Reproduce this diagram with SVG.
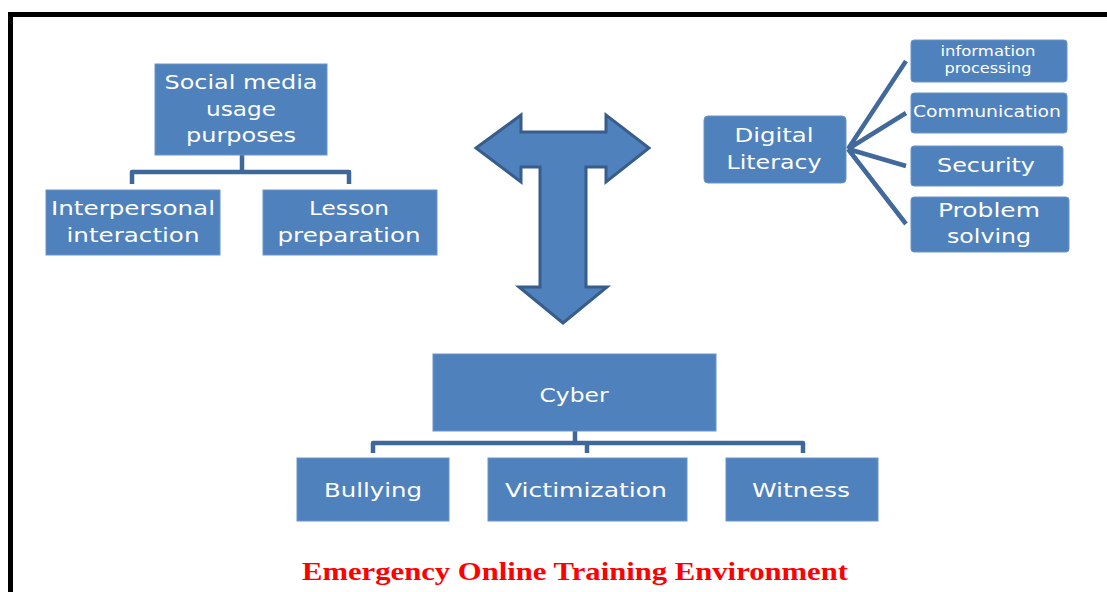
<svg xmlns="http://www.w3.org/2000/svg" width="1107" height="592" viewBox="0 0 1107 592">
<style>
.box{fill:#4F81BD;stroke:#6A95C8;stroke-width:1}
.t{fill:#fff;font-family:"DejaVu Sans","Open Sans",sans-serif;text-anchor:middle}
.conn{fill:none;stroke:#3E679A;stroke-width:4.5;stroke-linejoin:round}
.fan{fill:none;stroke:#41699B;stroke-width:4.5;stroke-linecap:butt}
</style>
<rect width="1107" height="592" fill="#fff"/>
<path d="M10.5,592 V14.5 H1107" fill="none" stroke="#000" stroke-width="5"/>
<g id="connectors">
<path class="conn" d="M242,155 V172 M132,184 V172 H349 V184"/>
<path class="conn" d="M575,431 V443 M373,453 V443 H803 V453 M587,443 V453"/>
<path class="fan" d="M848,149 L906,61 M848,149 L906,113 M848,149 L906,166 M848,149 L906,224"/>
</g>
<g id="t-arrow">
<path d="M476,148 L521,115 V132 H606 V115 L649,148 L606,182 V167 H586 V287 H607 L563,323 L519,287 H540 V167 H521 V182 Z" fill="#4F81BD" stroke="#385D8A" stroke-width="3" stroke-linejoin="miter"/>
</g>
<g id="social-media">
<rect class="box" x="155" y="64" width="172" height="91"/>
<text class="t" font-size="20"><tspan x="241" y="89" textLength="153" lengthAdjust="spacingAndGlyphs">Social media</tspan><tspan x="241" y="116" textLength="70" lengthAdjust="spacingAndGlyphs">usage</tspan><tspan x="241" y="142" textLength="110" lengthAdjust="spacingAndGlyphs">purposes</tspan></text>
</g>
<g id="interpersonal">
<rect class="box" x="46" y="190" width="174" height="65"/>
<text class="t" font-size="20"><tspan x="133" y="215" textLength="164" lengthAdjust="spacingAndGlyphs">Interpersonal</tspan><tspan x="133" y="242" textLength="133" lengthAdjust="spacingAndGlyphs">interaction</tspan></text>
</g>
<g id="lesson">
<rect class="box" x="263" y="190" width="174" height="65"/>
<text class="t" font-size="20"><tspan x="349" y="215" textLength="80" lengthAdjust="spacingAndGlyphs">Lesson</tspan><tspan x="349" y="242" textLength="143" lengthAdjust="spacingAndGlyphs">preparation</tspan></text>
</g>
<g id="digital-literacy">
<rect class="box" x="704" y="116" width="142" height="67" rx="4"/>
<text class="t" font-size="20"><tspan x="774" y="142" textLength="79" lengthAdjust="spacingAndGlyphs">Digital</tspan><tspan x="774" y="169" textLength="95" lengthAdjust="spacingAndGlyphs">Literacy</tspan></text>
</g>
<g id="information-processing">
<rect class="box" x="911" y="40" width="156" height="42" rx="3"/>
<text class="t" font-size="13.5"><tspan x="988" y="56" textLength="95" lengthAdjust="spacingAndGlyphs">information</tspan><tspan x="988" y="73" textLength="87" lengthAdjust="spacingAndGlyphs">processing</tspan></text>
</g>
<g id="communication">
<rect class="box" x="911" y="93" width="156" height="40" rx="3"/>
<text class="t" font-size="15" x="987" y="117" textLength="148" lengthAdjust="spacingAndGlyphs">Communication</text>
</g>
<g id="security">
<rect class="box" x="911" y="146" width="152" height="40" rx="3"/>
<text class="t" font-size="20" x="986" y="172" textLength="98" lengthAdjust="spacingAndGlyphs">Security</text>
</g>
<g id="problem-solving">
<rect class="box" x="911" y="197" width="158" height="55" rx="3"/>
<text class="t" font-size="20"><tspan x="989" y="217" textLength="102" lengthAdjust="spacingAndGlyphs">Problem</tspan><tspan x="989" y="243" textLength="84" lengthAdjust="spacingAndGlyphs">solving</tspan></text>
</g>
<g id="cyber">
<rect class="box" x="433" y="354" width="283" height="77"/>
<text class="t" font-size="20" x="574" y="402" textLength="69" lengthAdjust="spacingAndGlyphs">Cyber</text>
</g>
<g id="bullying">
<rect class="box" x="297" y="458" width="152" height="63"/>
<text class="t" font-size="20" x="373" y="497" textLength="98" lengthAdjust="spacingAndGlyphs">Bullying</text>
</g>
<g id="victimization">
<rect class="box" x="488" y="458" width="199" height="63"/>
<text class="t" font-size="20" x="586" y="497" textLength="162" lengthAdjust="spacingAndGlyphs">Victimization</text>
</g>
<g id="witness">
<rect class="box" x="726" y="458" width="152" height="63"/>
<text class="t" font-size="20" x="801" y="497" textLength="98" lengthAdjust="spacingAndGlyphs">Witness</text>
</g>
<text x="575" y="580" font-family="'Liberation Serif','Times New Roman',serif" font-weight="bold" font-size="26" fill="#FF0000" text-anchor="middle" textLength="546" lengthAdjust="spacingAndGlyphs">Emergency Online Training Environment</text>
</svg>
